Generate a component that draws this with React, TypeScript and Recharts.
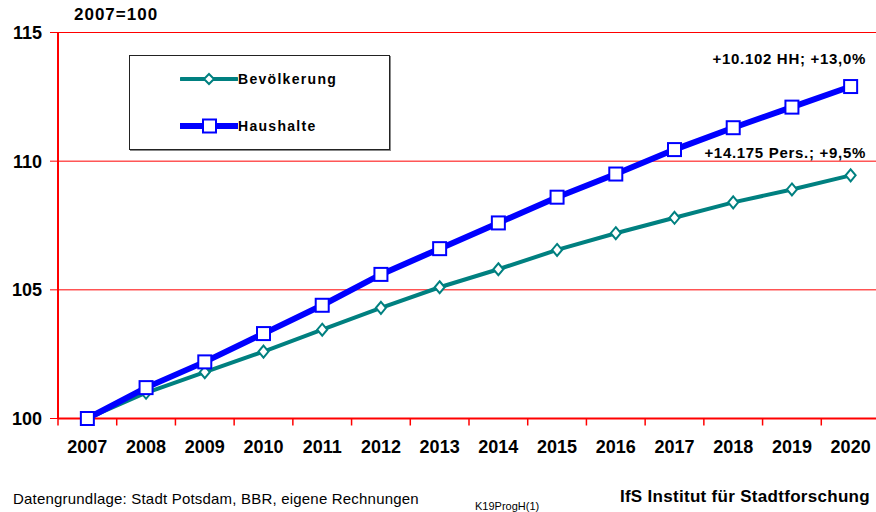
import { CartesianGrid, Line, LineChart, XAxis, YAxis } from "recharts";

const years = [2007, 2008, 2009, 2010, 2011, 2012, 2013, 2014, 2015, 2016, 2017, 2018, 2019, 2020];
const bevoelkerung = [100, 101.0, 101.8, 102.6, 103.45, 104.3, 105.1, 105.8, 106.55, 107.2, 107.8, 108.4, 108.9, 109.45];
const haushalte = [100, 101.2, 102.2, 103.3, 104.4, 105.6, 106.6, 107.6, 108.6, 109.5, 110.45, 111.3, 112.1, 112.9];
const yTicks = [100, 105, 110, 115];
const boundaryTicks = [2006.5, 2007.5, 2008.5, 2009.5, 2010.5, 2011.5, 2012.5, 2013.5, 2014.5, 2015.5, 2016.5, 2017.5, 2018.5, 2019.5];

const data = years.map((y, i) => ({ year: y, bev: bevoelkerung[i], hh: haushalte[i] }));

const FONT = '"Liberation Sans", Arial, sans-serif';
const TEAL = "#008080";
const BLUE = "#0000ff";
const RED = "#ff0000";

function SquareDot(props: any) {
  const { cx, cy } = props;
  if (cx == null || cy == null) return null;
  return <rect x={cx - 6.5} y={cy - 6.5} width={13} height={13} fill="#fff" stroke={BLUE} strokeWidth={2} />;
}

function DiamondDot(props: any) {
  const { cx, cy } = props;
  if (cx == null || cy == null) return null;
  return (
    <path
      d={`M${cx},${cy - 6} L${cx + 5},${cy} L${cx},${cy + 6} L${cx - 5},${cy} Z`}
      fill="#fff"
      stroke={TEAL}
      strokeWidth={2}
    />
  );
}

function EmptyTick() {
  return <g />;
}

function LegendBox() {
  const row = (color: string, width: number, marker: JSX.Element, label: string) => (
    <div style={{ display: "flex", alignItems: "center", height: 20 }}>
      <svg width={58} height={16} style={{ marginLeft: 50 }}>
        <line x1={1} y1={8} x2={57} y2={8} stroke={color} strokeWidth={width} strokeLinecap="round" />
        {marker}
      </svg>
      <span style={{ fontWeight: 700, fontSize: 14, letterSpacing: 1.3, color: "#000" }}>{label}</span>
    </div>
  );
  return (
    <div
      style={{
        position: "absolute",
        left: 129,
        top: 55,
        width: 261,
        height: 95,
        border: "1px solid #222",
        boxShadow: "1px 1px 0 #888",
        background: "#fff",
        fontFamily: FONT,
        boxSizing: "border-box",
        paddingTop: 13,
      }}
    >
      {row(TEAL, 4, <path d="M29,3 L34,8 L29,13 L24,8 Z" fill="#fff" stroke={TEAL} strokeWidth={2} />, "Bevölkerung")}
      <div style={{ height: 27 }} />
      {row(BLUE, 6, <rect x={23} y={1.5} width={13} height={13} fill="#fff" stroke={BLUE} strokeWidth={2} />, "Haushalte")}
    </div>
  );
}

export default function App() {
  return (
    <div style={{ position: "absolute", left: 0, top: 0, width: 876, height: 512, overflow: "hidden", background: "#fff", fontFamily: FONT }}>
      <LineChart width={880} height={512} data={data} margin={{ top: 32.5, right: 0, bottom: 63.5, left: 0 }}>
        <CartesianGrid xAxisId={1} vertical={false} stroke={RED} strokeWidth={1} />
        <XAxis
          xAxisId={0}
          type="number"
          dataKey="year"
          domain={[2006.5, 2020.5]}
          ticks={boundaryTicks}
          interval={0}
          height={1}
          tick={<EmptyTick />}
          tickSize={7}
          tickLine={{ stroke: RED, strokeWidth: 1.5 }}
          axisLine={{ stroke: RED, strokeWidth: 2 }}
        />
        <XAxis
          xAxisId={1}
          type="number"
          dataKey="year"
          domain={[2006.5, 2020.5]}
          ticks={years}
          interval={0}
          height={29}
          tickSize={0}
          tickMargin={21}
          tickLine={false}
          axisLine={false}
          tick={{ fill: "#000", fontSize: 18, fontWeight: 700, fontFamily: FONT }}
        />
        <YAxis
          domain={[100, 115]}
          ticks={yTicks}
          interval={0}
          width={58}
          tickSize={8}
          tickMargin={8}
          tickLine={{ stroke: RED }}
          axisLine={{ stroke: RED, strokeWidth: 2 }}
          tick={{ fill: "#000", fontSize: 18, fontWeight: 700, fontFamily: FONT }}
        />
        <Line
          xAxisId={1}
          type="linear"
          dataKey="bev"
          name="Bevölkerung"
          stroke={TEAL}
          strokeWidth={4}
          dot={<DiamondDot />}
          activeDot={false}
          isAnimationActive={false}
        />
        <Line
          xAxisId={1}
          type="linear"
          dataKey="hh"
          name="Haushalte"
          stroke={BLUE}
          strokeWidth={6}
          dot={<SquareDot />}
          activeDot={false}
          isAnimationActive={false}
        />
      </LineChart>

      <LegendBox />
      <div style={{ position: "absolute", left: 74, top: 5, fontSize: 17, fontWeight: 700, letterSpacing: 1 }}>2007=100</div>
      <div style={{ position: "absolute", right: 10, top: 50, fontSize: 15, fontWeight: 700, letterSpacing: 0.7 }}>
        +10.102 HH; +13,0%
      </div>
      <div style={{ position: "absolute", right: 10, top: 144, fontSize: 15, fontWeight: 700, letterSpacing: 0.7 }}>
        +14.175 Pers.; +9,5%
      </div>
      <div style={{ position: "absolute", left: 13, top: 490, fontSize: 15, letterSpacing: 0.2 }}>
        Datengrundlage: Stadt Potsdam, BBR, eigene Rechnungen
      </div>
      <div style={{ position: "absolute", left: 475, top: 500, fontSize: 11 }}>K19ProgH(1)</div>
      <div style={{ position: "absolute", right: 6, top: 487, fontSize: 17, fontWeight: 700, letterSpacing: 0.3 }}>
        IfS Institut für Stadtforschung
      </div>
    </div>
  );
}
